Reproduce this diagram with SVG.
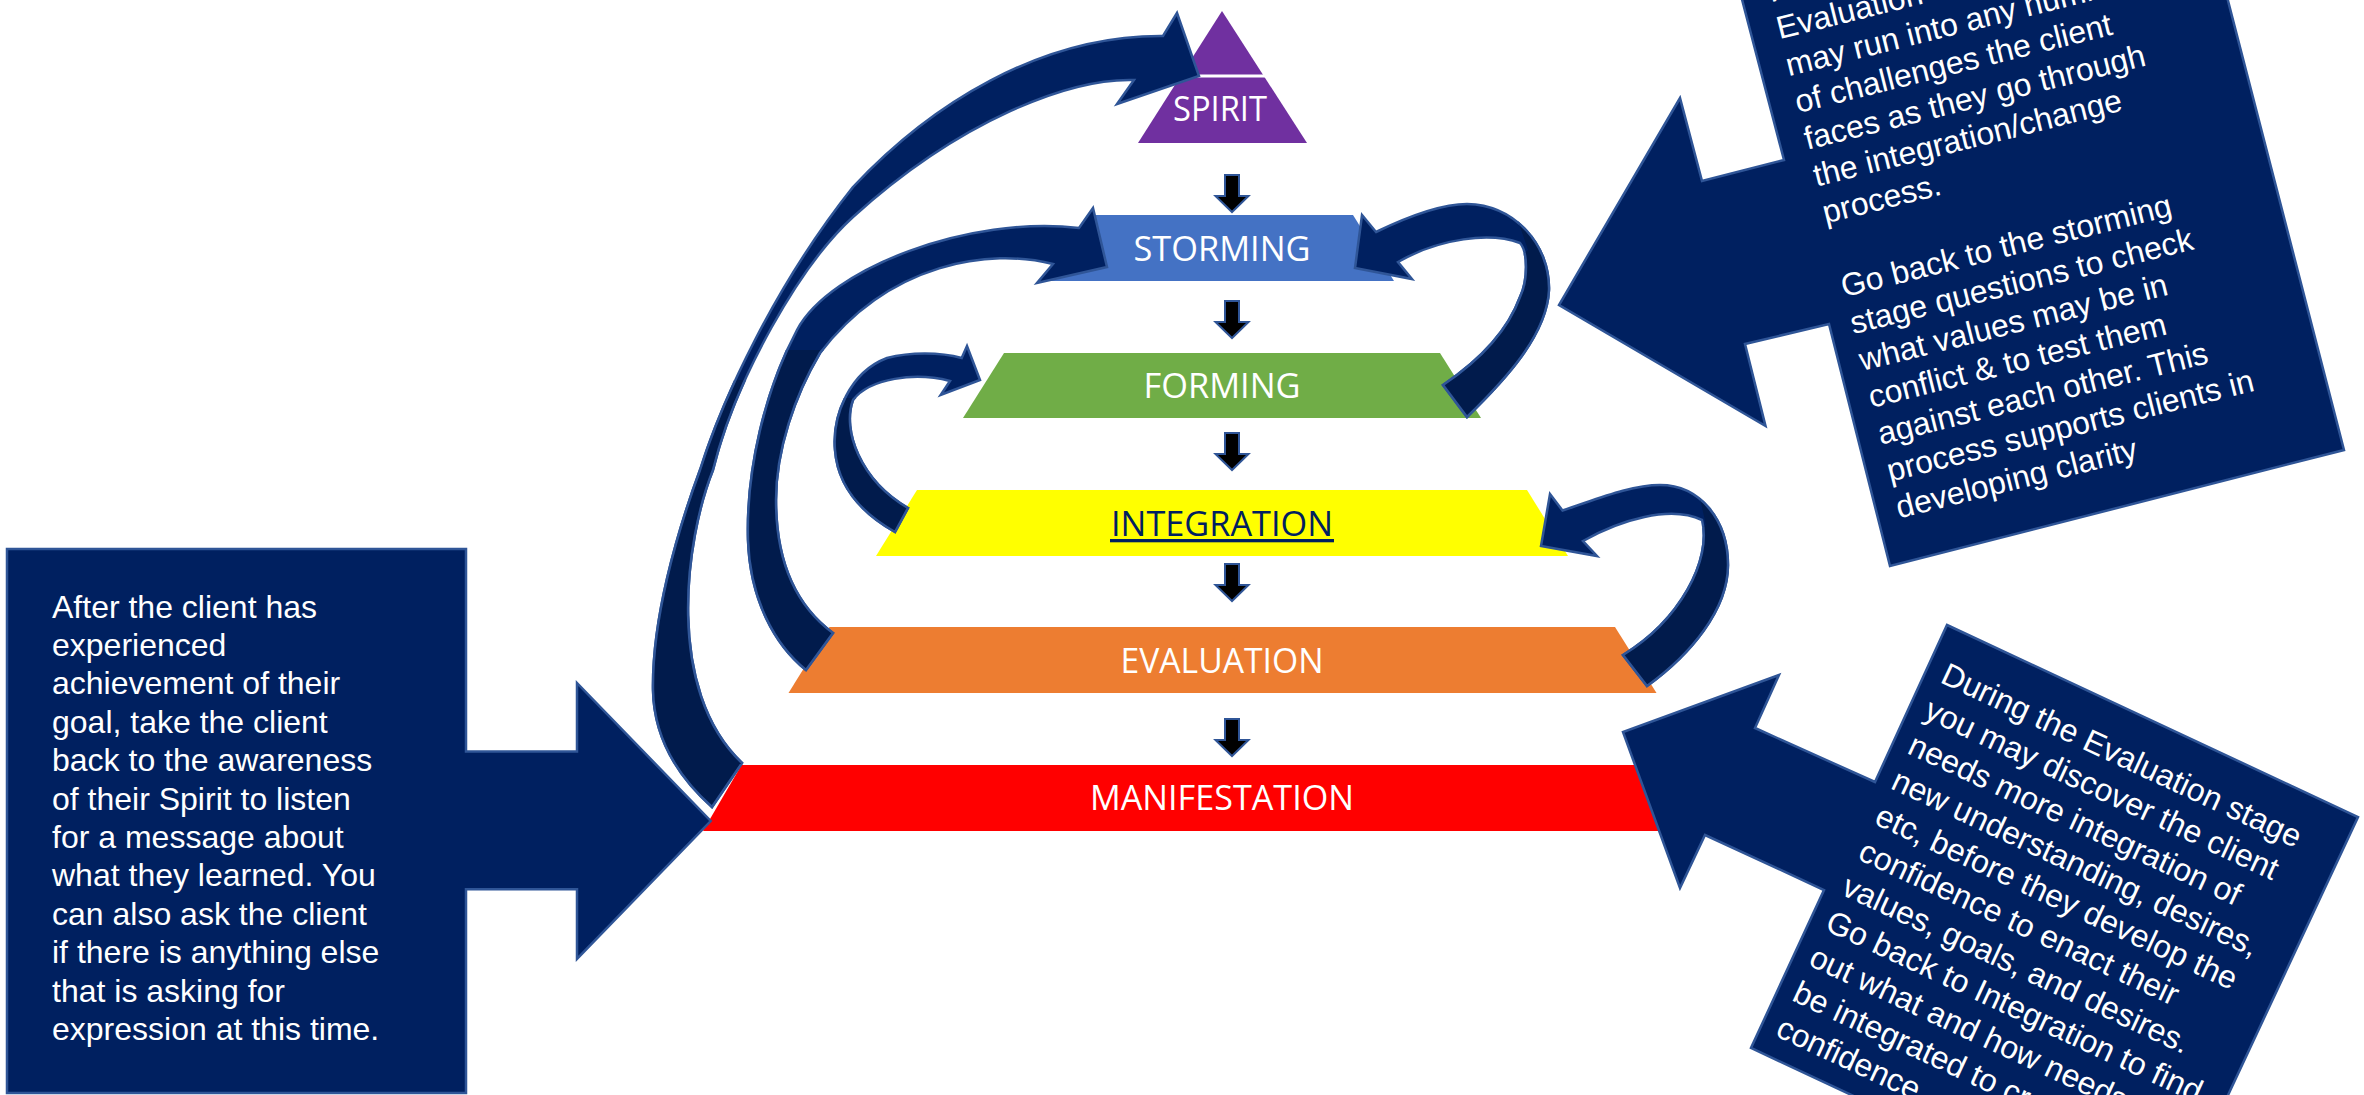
<svg xmlns="http://www.w3.org/2000/svg" xmlns:xlink="http://www.w3.org/1999/xlink" width="2364" height="1095" viewBox="0 0 2364 1095">
  <style>
    .stage-label { font-family: "Open Sans", "Noto Sans", sans-serif; font-size: 34px; fill: #ffffff; text-anchor: middle; }
    .note { font-family: "Liberation Sans", Arial, sans-serif; font-size: 32px; fill: #ffffff; }
    .callout { fill: #002060; stroke: #2f5597; stroke-width: 2.5; stroke-linejoin: miter; }
    .band { fill: #002060; stroke: #2f5597; stroke-width: 2.5; stroke-linejoin: miter; }
    .band-back { fill: #011b4c; stroke: #2f5597; stroke-width: 2.5; stroke-linejoin: miter; }
    .step { fill: #000000; stroke: #2f5597; stroke-width: 2; }
  </style>
  <defs>
    <!-- small downward block arrow between stages -->
    <path id="step-arrow" d="M-7,0 H7 V21 H16.5 L0,37 L-16.5,21 H-7 Z"/>

    <!-- curved feedback arrows -->
    <path id="arc-manifest-spirit" d="M712,807 C684,782 654,745 653,690 C652,620 676,535 700,470 C722,400 775,285 853,187 C930,105 1040,35 1163,36 L1177,13 L1199,76 L1117,104 L1134,80 C1070,78 960,120 853,217 C800,265 735,380 713,470 C685,540 665,690 742,763 Z"/>
    <path id="arc-eval-storm" d="M806,670 C775,645 750,600 748,540 C746,470 765,390 797,330 C830,268 970,215 1079,228 L1093,208 L1107,267 L1037,283 L1053,264 C990,248 890,262 820,353 C795,395 776,450 776,500 C776,560 795,605 833,633 Z"/>
    <path id="arc-integ-form" d="M895,532 C865,515 838,490 835,450 C832,415 850,372 887,358 C910,352 940,352 961.7,358 L967,346 L980,380 L940.7,395 L950,381 C915,372 870,378 853,400 C842,430 860,480 908,508 Z"/>
    <path id="arc-form-storm" d="M1467,417 C1505,380 1547,335 1549,290 C1550,245 1515,205 1467,204 C1440,204 1405,218 1376,232 L1362,215 L1355,268 L1412,279 L1398,262 C1440,238 1490,232 1520,243 C1528,252 1528,280 1520,297 C1508,330 1480,360 1443,385 Z"/>
    <path id="arc-eval-integ" d="M1647,686 C1690,655 1728,610 1728,565 C1728,520 1700,485 1660,485 C1630,485 1595,500 1562.5,510.5 L1550,494 L1541,546 L1597,556 L1583,541 C1620,520 1670,505 1702,520 C1712,560 1680,620 1623,655 Z"/>

    <!-- regions where the twisted bands show their back face -->
    <clipPath id="back-ms"><rect x="0" y="380" width="2364" height="715"/></clipPath>
    <clipPath id="back-es"><rect x="0" y="350" width="2364" height="745"/></clipPath>
    <clipPath id="back-if"><rect x="0" y="398" width="2364" height="697"/></clipPath>
    <clipPath id="back-fs"><polygon points="1511,200 1620,200 1620,460 1400,460 1400,350 1528,250"/></clipPath>
    <clipPath id="back-ei"><polygon points="1698,490 1800,490 1800,720 1580,720 1580,620 1706,525"/></clipPath>
  </defs>

  <rect x="0" y="0" width="2364" height="1095" fill="#ffffff"/>

  <!-- stage pyramid -->
  <g id="stages">
    <g id="stage-spirit">
      <polygon points="1222,11 1307,143 1138,143" fill="#7030a0"/>
      <line x1="1176" y1="76" x2="1268" y2="76" stroke="#ffffff" stroke-width="3"/>
      <text class="stage-label" x="1220" y="121" font-size="33" textLength="94" lengthAdjust="spacingAndGlyphs">SPIRIT</text>
    </g>
    <g id="stage-storming">
      <polygon points="1091,215 1353,215 1394,281 1050,281" fill="#4472c4"/>
      <text class="stage-label" x="1222" y="261" textLength="177" lengthAdjust="spacingAndGlyphs">STORMING</text>
    </g>
    <g id="stage-forming">
      <polygon points="1004,353 1440,353 1481,418 963,418" fill="#70ad47"/>
      <text class="stage-label" x="1222" y="398" textLength="157" lengthAdjust="spacingAndGlyphs">FORMING</text>
    </g>
    <g id="stage-integration">
      <polygon points="917,490 1527,490 1568,556 876,556" fill="#ffff00"/>
      <text class="stage-label" x="1222" y="536" style="fill:#002060" textLength="222" lengthAdjust="spacingAndGlyphs">INTEGRATION</text>
      <rect x="1110" y="539" width="224" height="3.3" fill="#002060"/>
    </g>
    <g id="stage-evaluation">
      <polygon points="829.5,627 1615,627 1656.5,693 788.5,693" fill="#ed7d31"/>
      <text class="stage-label" x="1222" y="673" textLength="203" lengthAdjust="spacingAndGlyphs">EVALUATION</text>
    </g>
    <g id="stage-manifestation">
      <polygon points="741.5,765 1702.5,765 1741,831 703,831" fill="#ff0000"/>
      <text class="stage-label" x="1222" y="810" textLength="264" lengthAdjust="spacingAndGlyphs">MANIFESTATION</text>
    </g>
  </g>

  <!-- arrows between and around the stages -->
  <g id="connectors">
    <use xlink:href="#step-arrow" href="#step-arrow" class="step" x="1232" y="175"/>
    <use xlink:href="#step-arrow" href="#step-arrow" class="step" x="1232" y="301"/>
    <use xlink:href="#step-arrow" href="#step-arrow" class="step" x="1232" y="433"/>
    <use xlink:href="#step-arrow" href="#step-arrow" class="step" x="1232" y="564"/>
    <use xlink:href="#step-arrow" href="#step-arrow" class="step" x="1232" y="719"/>

    <g id="arc-1">
      <use xlink:href="#arc-manifest-spirit" href="#arc-manifest-spirit" class="band"/>
      <use xlink:href="#arc-manifest-spirit" href="#arc-manifest-spirit" class="band-back" clip-path="url(#back-ms)"/>
    </g>
    <g id="arc-2">
      <use xlink:href="#arc-eval-storm" href="#arc-eval-storm" class="band"/>
      <use xlink:href="#arc-eval-storm" href="#arc-eval-storm" class="band-back" clip-path="url(#back-es)"/>
    </g>
    <g id="arc-3">
      <use xlink:href="#arc-integ-form" href="#arc-integ-form" class="band"/>
      <use xlink:href="#arc-integ-form" href="#arc-integ-form" class="band-back" clip-path="url(#back-if)"/>
    </g>
    <g id="arc-4">
      <use xlink:href="#arc-form-storm" href="#arc-form-storm" class="band"/>
      <use xlink:href="#arc-form-storm" href="#arc-form-storm" class="band-back" clip-path="url(#back-fs)"/>
    </g>
    <g id="arc-5">
      <use xlink:href="#arc-eval-integ" href="#arc-eval-integ" class="band"/>
      <use xlink:href="#arc-eval-integ" href="#arc-eval-integ" class="band-back" clip-path="url(#back-ei)"/>
    </g>
  </g>

  <!-- note pointing at Manifestation -->
  <g id="callout-left">
    <polygon class="callout" points="7,549 466,549 466,751.6 577,751.6 577,683 710.7,821 577,958.8 577,889.3 466,889.3 466,1093 7,1093"/>
    <text class="note" x="52" y="617.6">
      <tspan x="52" y="617.6">After the client has</tspan>
      <tspan x="52" y="656">experienced</tspan>
      <tspan x="52" y="694.4">achievement of their</tspan>
      <tspan x="52" y="732.8">goal, take the client</tspan>
      <tspan x="52" y="771.2">back to the awareness</tspan>
      <tspan x="52" y="809.6">of their Spirit to listen</tspan>
      <tspan x="52" y="848">for a message about</tspan>
      <tspan x="52" y="886.4">what they learned. You</tspan>
      <tspan x="52" y="924.8">can also ask the client</tspan>
      <tspan x="52" y="963.2">if there is anything else</tspan>
      <tspan x="52" y="1001.6">that is asking for</tspan>
      <tspan x="52" y="1040">expression at this time.</tspan>
    </text>
  </g>

  <!-- note pointing back at Storming -->
  <g id="callout-top-right">
    <polygon class="callout" points="2202,-100 2344,450 1890,566 1829,324 1745,344 1765.5,426 1559,305 1680,98 1702,181 1784,160 1716,-100"/>
    <text class="note" transform="translate(1798,113) rotate(-14)">
      <tspan x="0" y="-114">In the</tspan>
      <tspan x="0" y="-76">Evaluation stage you</tspan>
      <tspan x="0" y="-38">may run into any number</tspan>
      <tspan x="0" y="0">of challenges the client</tspan>
      <tspan x="0" y="38">faces as they go through</tspan>
      <tspan x="0" y="76">the integration/change</tspan>
      <tspan x="0" y="114">process.</tspan>
      <tspan x="0" y="190">Go back to the storming</tspan>
      <tspan x="0" y="228">stage questions to check</tspan>
      <tspan x="0" y="266">what values may be in</tspan>
      <tspan x="0" y="304">conflict &amp; to test them</tspan>
      <tspan x="0" y="342">against each other. This</tspan>
      <tspan x="0" y="380">process supports clients in</tspan>
      <tspan x="0" y="418">developing clarity</tspan>
    </text>
  </g>

  <!-- note pointing back at Integration -->
  <g id="callout-bottom-right">
    <polygon class="callout" points="1947,625 2358,817 2179,1200 2076,1200 1751,1048 1824,890 1705,835 1680,888 1623,732 1779,675 1755,728 1875,782"/>
    <text class="note" transform="translate(1939,682) rotate(25)">
      <tspan x="0" y="0">During the Evaluation stage</tspan>
      <tspan x="0" y="39">you may discover the client</tspan>
      <tspan x="0" y="78">needs more integration of</tspan>
      <tspan x="0" y="117">new understanding, desires,</tspan>
      <tspan x="0" y="156">etc, before they develop the</tspan>
      <tspan x="0" y="195">confidence to enact their</tspan>
      <tspan x="0" y="234">values, goals, and desires.</tspan>
      <tspan x="0" y="273">Go back to Integration to find</tspan>
      <tspan x="0" y="312">out what and how needs to</tspan>
      <tspan x="0" y="351">be integrated to create</tspan>
      <tspan x="0" y="390">confidence</tspan>
    </text>
  </g>
</svg>
